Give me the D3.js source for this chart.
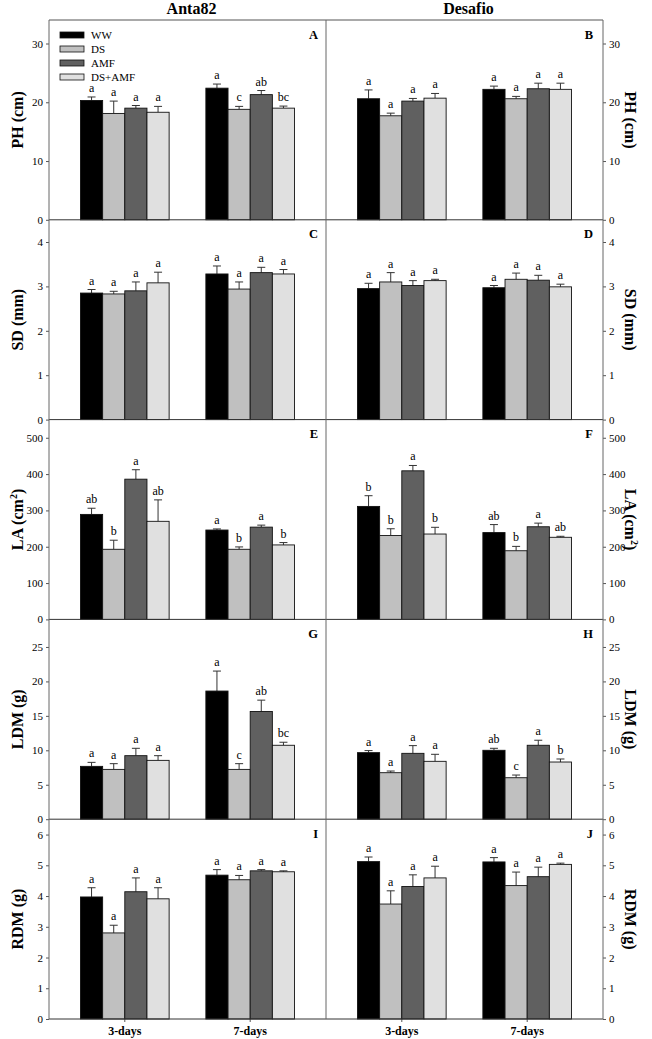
<!DOCTYPE html>
<html><head><meta charset="utf-8">
<script src="https://cdn.jsdelivr.net/npm/d3@7"></script>
<style>
body{margin:0;background:#fff}
svg{display:block}
text{font-family:"Liberation Serif","Times New Roman",serif;fill:#000}
</style>
</head><body><svg id="c" width="652" height="1039"></svg>
<script>
const cultivars = ["Anta82","Desafio"];
const days = ["3-days","7-days"];
const treatments = ["WW","DS","AMF","DS+AMF"];
const colors = ["#000000","#c0c0c0","#606060","#e0e0e0"];
const varNames = ["PH","SD","LA","LDM","RDM"];
const varUnits = ["cm","mm","cm","g","g"];
const varSup = ["","","2","",""];
const yMax = [34,4.5,550,29,6.5];
const yTicks = [[0,10,20,30],[0,1,2,3,4],[0,100,200,300,400,500],[0,5,10,15,20,25],[0,1,2,3,4,5,6]];
const panelLetters = [["A","B"],["C","D"],["E","F"],["G","H"],["I","J"]];

// values: [day][treatment]
const phAnta = [[20.3,18.1,19.0,18.3],[22.4,18.8,21.3,19.0]];
const phAntaErr = [[0.6,2.1,0.45,1.0],[0.7,0.5,0.7,0.35]];
const phAntaSig = [["a","a","a","a"],["a","c","ab","bc"]];
const phDes = [[20.6,17.7,20.2,20.7],[22.2,20.6,22.3,22.2]];
const phDesErr = [[1.5,0.45,0.45,0.8],[0.55,0.4,0.95,1.05]];
const phDesSig = [["a","a","a","a"],["a","a","a","a"]];

const sdAnta = [[2.85,2.83,2.90,3.08],[3.28,2.94,3.31,3.28]];
const sdAntaErr = [[0.08,0.06,0.2,0.24],[0.18,0.16,0.12,0.1]];
const sdAntaSig = [["a","a","a","a"],["a","a","a","a"]];
const sdDes = [[2.95,3.10,3.02,3.13],[2.97,3.16,3.14,2.99]];
const sdDesErr = [[0.12,0.21,0.11,0.03],[0.05,0.14,0.11,0.06]];
const sdDesSig = [["a","a","a","a"],["a","a","a","a"]];

const laAnta = [[289,193,386,270],[246,193,254,205]];
const laAntaErr = [[17,25,26,59],[3,6.5,5.5,6.5]];
const laAntaSig = [["ab","b","a","ab"],["a","b","a","b"]];
const laDes = [[311,231,409,235],[239,189,255,226]];
const laDesErr = [[29.5,18.5,14.7,18.5],[22,12,10,2.8]];
const laDesSig = [["b","b","a","b"],["ab","b","a","ab"]];

const ldmAnta = [[7.67,7.23,9.22,8.54],[18.6,7.23,15.63,10.73]];
const ldmAntaErr = [[0.58,0.83,1.07,0.68],[2.9,0.83,1.65,0.44]];
const ldmAntaSig = [["a","a","a","a"],["a","c","ab","bc"]];
const ldmDes = [[9.66,6.75,9.56,8.4],[10.0,6.02,10.73,8.3]];
const ldmDesErr = [[0.3,0.24,1.12,1.02],[0.29,0.39,0.73,0.44]];
const ldmDesSig = [["a","a","a","a"],["ab","c","a","b"]];

const rdmAnta = [[3.97,2.8,4.14,3.91],[4.68,4.53,4.82,4.79]];
const rdmAntaErr = [[0.3,0.25,0.45,0.36],[0.18,0.14,0.04,0.03]];
const rdmAntaSig = [["a","a","a","a"],["a","a","a","a"]];
const rdmDes = [[5.12,3.74,4.31,4.59],[5.11,4.34,4.63,5.03]];
const rdmDesErr = [[0.15,0.43,0.38,0.38],[0.14,0.44,0.31,0.04]];
const rdmDesSig = [["a","a","a","a"],["a","a","a","a"]];

const panelData = [
  [[phAnta,phAntaErr,phAntaSig],[phDes,phDesErr,phDesSig]],
  [[sdAnta,sdAntaErr,sdAntaSig],[sdDes,sdDesErr,sdDesSig]],
  [[laAnta,laAntaErr,laAntaSig],[laDes,laDesErr,laDesSig]],
  [[ldmAnta,ldmAntaErr,ldmAntaSig],[ldmDes,ldmDesErr,ldmDesSig]],
  [[rdmAnta,rdmAntaErr,rdmAntaSig],[rdmDes,rdmDesErr,rdmDesSig]]
];

const svg = d3.select("#c");
const L = 49, M = 326, R = 603, T = 20, PH = 199.8;
const colX = [[L, M],[M, R]];

const g = svg.append("g");

for (let r = 0; r < 5; r++) {
  const top = T + r*PH, bot = top + PH;
  const y = d3.scaleLinear().domain([0, yMax[r]]).range([bot, top]);
  for (let c = 0; c < 2; c++) {
    const [x0, x1] = colX[c];
    const xDay = d3.scaleBand().domain(days).range([x0, x1]).paddingInner(0.293).paddingOuter(0.251);
    const xT = d3.scaleBand().domain(treatments).range([0, xDay.bandwidth()]);
    const [vals, errs, sigs] = panelData[r][c];
    const pg = g.append("g");
    days.forEach((d, di) => {
      treatments.forEach((t, ti) => {
        const v = vals[di][ti], e = errs[di][ti];
        const bx = xDay(d) + xT(t), bw = xT.bandwidth();
        const cx = bx + bw/2;
        pg.append("line").attr("x1", cx).attr("x2", cx).attr("y1", y(v)).attr("y2", y(v+e))
          .attr("stroke", "#333").attr("stroke-width", 1);
        pg.append("line").attr("x1", cx-4).attr("x2", cx+4).attr("y1", y(v+e)).attr("y2", y(v+e))
          .attr("stroke", "#333").attr("stroke-width", 1);
        pg.append("rect").attr("x", bx).attr("y", y(v)).attr("width", bw).attr("height", y(0)-y(v))
          .attr("fill", colors[ti]).attr("stroke", "#111").attr("stroke-width", 0.9);
        pg.append("text").attr("x", cx).attr("y", y(v+e) - 5).attr("text-anchor", "middle")
          .attr("font-size", 12).text(sigs[di][ti]);
      });
    });
    pg.append("text").attr("x", c === 0 ? x1 - 8 : x1 - 10).attr("y", top + 18.5)
      .attr("text-anchor", "end").attr("font-size", 12.5).attr("font-weight", "bold")
      .text(panelLetters[r][c]);
    const axisGen = c === 0 ? d3.axisLeft(y) : d3.axisRight(y);
    const ax = g.append("g").attr("transform", `translate(${c === 0 ? L : R},0)`)
      .call(axisGen.tickValues(yTicks[r]).tickSize(3).tickSizeOuter(0).tickPadding(3).tickFormat(d3.format("d")));
    ax.select(".domain").remove();
    ax.selectAll("line").attr("stroke", "#555");
    ax.selectAll("text").attr("font-size", 11).attr("font-family", "'Liberation Serif',serif");
    if (r === 4) {
      days.forEach(d => {
        const cx = xDay(d) + xDay.bandwidth()/2;
        g.append("line").attr("x1", cx).attr("x2", cx).attr("y1", bot).attr("y2", bot+3).attr("stroke", "#555");
        g.append("text").attr("x", cx).attr("y", 1035).attr("text-anchor", "middle")
          .attr("font-size", 12).attr("font-weight", "bold").text(d);
      });
    }
  }
  const midY = (top + bot) / 2;
  const mkTitle = (tx, rot) => {
    const t = g.append("text").attr("transform", `translate(${tx},${midY}) rotate(${rot})`)
      .attr("text-anchor", "middle").attr("font-size", 16).attr("font-weight", "bold");
    t.append("tspan").text(`${varNames[r]} (${varUnits[r]}`);
    if (varSup[r]) t.append("tspan").attr("font-size", 10).attr("dy", -6).text(varSup[r]);
    t.append("tspan").attr("dy", varSup[r] ? 6 : 0).text(")");
  };
  mkTitle(23, -90);
  mkTitle(625, 90);
  g.append("line").attr("x1", L).attr("x2", R).attr("y1", bot).attr("y2", bot)
    .attr("stroke", "#333").attr("stroke-width", 1);
}

g.append("line").attr("x1", L).attr("x2", R).attr("y1", T).attr("y2", T).attr("stroke", "#555");
[L, M, R].forEach(x => g.append("line").attr("x1", x).attr("x2", x).attr("y1", T).attr("y2", T + 5*PH).attr("stroke", "#666"));

cultivars.forEach((cv, i) => {
  g.append("text").attr("x", (colX[i][0] + colX[i][1]) / 2 + 4).attr("y", 14)
    .attr("text-anchor", "middle").attr("font-size", 16).attr("font-weight", "bold").text(cv);
});

const lg = g.append("g");
treatments.forEach((t, i) => {
  const cy = 35 + i*14;
  lg.append("rect").attr("x", 60).attr("y", cy-3).attr("width", 24).attr("height", 6)
    .attr("fill", colors[i]).attr("stroke", "#111").attr("stroke-width", 0.8);
  lg.append("text").attr("x", 91).attr("y", cy+4).attr("font-size", 11).text(t);
});
</script>
</body></html>
